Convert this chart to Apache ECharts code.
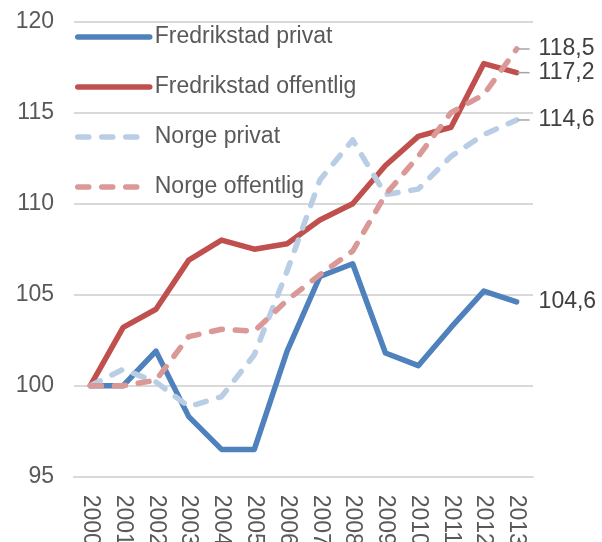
<!DOCTYPE html>
<html>
<head>
<meta charset="utf-8">
<script src="https://cdn.jsdelivr.net/npm/echarts@6/dist/echarts.min.js"></script>
<style>
html,body{margin:0;padding:0;background:#fff;}
#chart{width:602px;height:542px;}
</style>
</head>
<body>
<div id="chart"></div>
<script>
var years = ['2000','2001','2002','2003','2004','2005','2006','2007','2008','2009','2010','2011','2012','2013'];
var seriesNames = ['Fredrikstad privat','Fredrikstad offentlig','Norge privat','Norge offentlig'];
var fredPrivat     = [100, 100,   101.9, 98.3,  96.5, 96.5,  101.9, 106.0, 106.7, 101.8, 101.1, 103.2, 105.2, 104.6];
var fredOffentlig  = [100, 103.2, 104.2, 106.9, 108.0, 107.5, 107.8, 109.1, 110.0, 112.1, 113.7, 114.2, 117.7, 117.2];
var norgePrivat    = [100, 100.9, 100.2, 98.85, 99.4, 101.7, 106.3, 111.3, 113.5, 110.5, 110.8, 112.6, 113.8, 114.6];
var norgeOffentlig = [100, 100,   100.3, 102.7, 103.1, 103.0, 104.7, 106.1, 107.4, 110.5, 112.6, 115.0, 116.0, 118.5];
var yTicks = [95, 100, 105, 110, 115, 120];

var FONT = '"Liberation Sans", Arial, sans-serif';
var colors = ['#4f81bd', '#c0504d', '#b9cde5', '#da9896'];

function fmt(v){ return v.toFixed(1).replace('.', ','); }

function mkSeries(name, arr, color, dashed, leader){
  return {
    name: name,
    type: 'line',
    data: arr,
    symbol: 'none',
    showSymbol: false,
    z: dashed ? 3 : 2,
    lineStyle: {
      color: color,
      width: 5.5,
      type: dashed ? [11, 13] : 'solid',
      cap: 'round',
      join: 'round'
    },
    itemStyle: { color: color },
    endLabel: {
      show: true,
      distance: leader ? 1 : 22,
      formatter: function(p){
        var v = Array.isArray(p.value) ? p.value[1] : p.value;
        return (leader ? '{l|}' : '') + '{v|' + fmt(v) + '}';
      },
      rich: {
        l: { width: 12, height: 1.5, backgroundColor: '#a6a6a6' },
        v: { fontSize: 23, fontFamily: FONT, color: '#404040', padding: [0, 0, 0, leader ? 9 : 0] }
      }
    },
    emphasis: { disabled: true }
  };
}

var chart = echarts.init(document.getElementById('chart'), null, { renderer: 'canvas' });
chart.setOption({
  animation: false,
  backgroundColor: '#ffffff',
  color: colors,
  grid: { left: 74, right: 69, top: 21.7, bottom: 65.3, containLabel: false, outerBoundsMode: 'none' },
  legend: {
    orient: 'vertical',
    left: 70,
    top: 19,
    padding: 5,
    itemWidth: 72,
    itemHeight: 14,
    itemGap: 24,
    data: seriesNames,
    itemStyle: { opacity: 0, borderWidth: 0 },
    lineStyle: { width: 5.5, cap: 'round' },
    textStyle: { fontSize: 23, fontFamily: FONT, color: '#595959', lineHeight: 26 }
  },
  xAxis: {
    type: 'category',
    data: years,
    boundaryGap: true,
    axisLine: { show: true, lineStyle: { color: '#d9d9d9', width: 2 } },
    axisTick: { show: false },
    axisLabel: { rotate: -90, margin: 18, fontSize: 23, fontFamily: FONT, color: '#595959', interval: 0 },
    splitLine: { show: false }
  },
  yAxis: {
    type: 'value',
    min: yTicks[0],
    max: yTicks[yTicks.length - 1],
    interval: 5,
    axisLine: { show: false },
    axisTick: { show: false },
    axisLabel: { margin: 20, fontSize: 23, fontFamily: FONT, color: '#595959' },
    splitLine: { show: true, lineStyle: { color: '#d9d9d9', width: 2 } }
  },
  series: [
    mkSeries(seriesNames[0], fredPrivat, colors[0], false, false),
    mkSeries(seriesNames[1], fredOffentlig, colors[1], false, true),
    mkSeries(seriesNames[2], norgePrivat, colors[2], true, true),
    mkSeries(seriesNames[3], norgeOffentlig, colors[3], true, true)
  ]
});
</script>
</body>
</html>
